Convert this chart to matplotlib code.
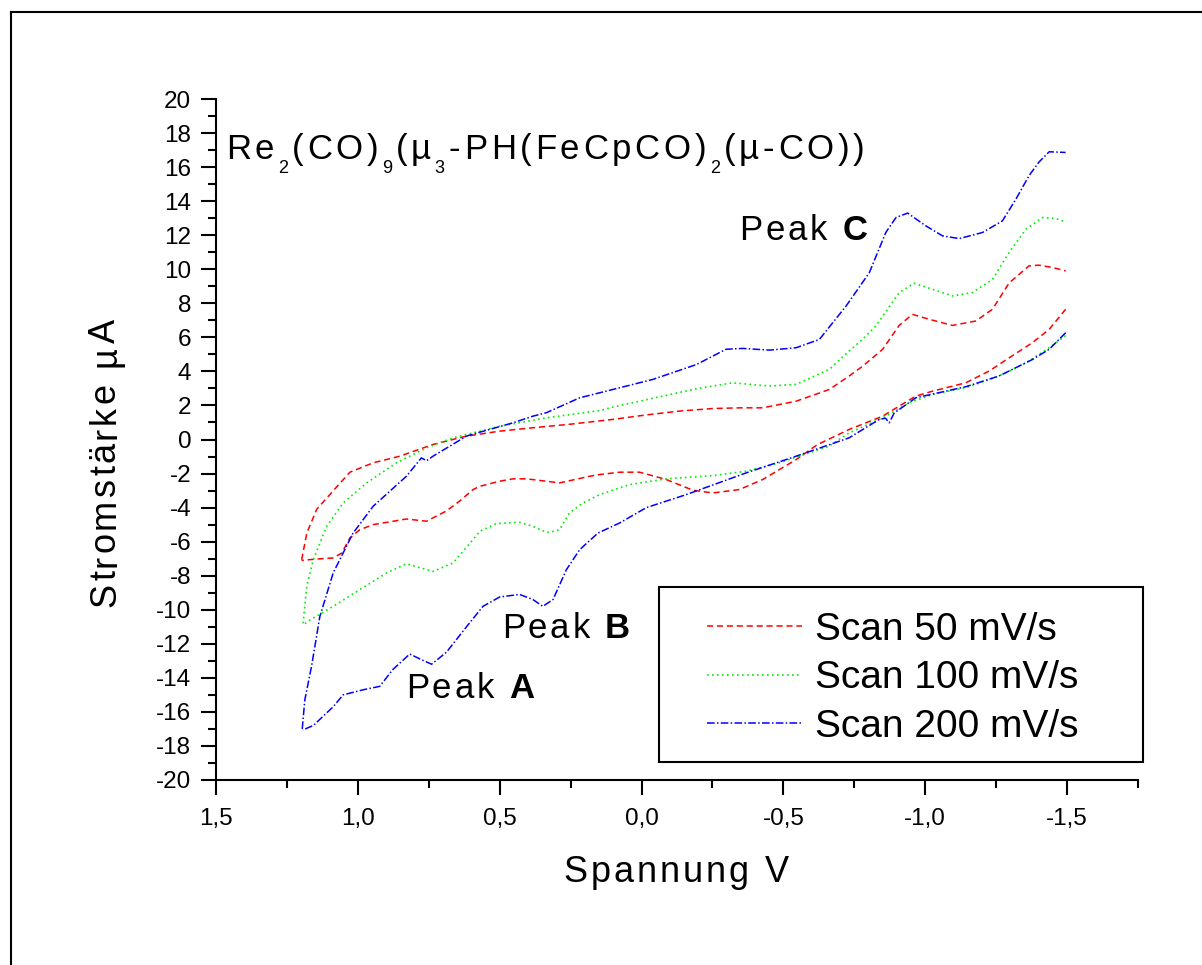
import matplotlib
matplotlib.use("Agg")
import matplotlib.pyplot as plt
from matplotlib.lines import Line2D
from matplotlib.patches import Rectangle
from matplotlib.ticker import MultipleLocator
from matplotlib.font_manager import findfont, FontProperties
from matplotlib.ft2font import FT2Font

plt.rcParams['font.family'] = 'Liberation Sans'
plt.rcParams['axes.unicode_minus'] = False

# scan 50 mV/s, forward branch (1.2 -> -1.5) and return branch (-1.5 -> 1.2)
v50_fwd = [1.198, 1.18, 1.145, 1.099, 1.028, 0.946, 0.852, 0.735, 0.617, 0.5, 0.383, 0.25,
           0.102, -0.02, -0.134, -0.251, -0.35, -0.427, -0.545, -0.662, -0.732, -0.779, -0.85,
           -0.908, -0.955, -1.014, -1.096, -1.178, -1.237, -1.296, -1.366, -1.401, -1.45, -1.495]
i50_fwd = [-7.06, -5.5, -4.1, -3.24, -1.92, -1.37, -0.98, -0.29, 0.2, 0.49, 0.69, 0.9,
           1.18, 1.45, 1.67, 1.82, 1.86, 1.86, 2.25, 2.94, 3.73, 4.3, 5.3,
           6.7, 7.35, 7.06, 6.7, 6.96, 7.65, 9.2, 10.2, 10.24, 10.1, 9.9]
v50_rev = [-1.495, -1.437, -1.378, -1.296, -1.225, -1.143, -1.026, -0.967, -0.908, -0.85, -0.732,
           -0.62, -0.545, -0.427, -0.345, -0.251, -0.181, -0.087, 0.007, 0.077, 0.148, 0.183,
           0.289, 0.336, 0.406, 0.453, 0.5, 0.57, 0.594, 0.64, 0.688, 0.758, 0.829, 0.946, 0.993,
           1.028, 1.057, 1.087, 1.145, 1.198]
i50_rev = [7.65, 6.47, 5.69, 4.8, 4.02, 3.33, 2.84, 2.55, 1.96, 1.37, 0.59,
           -0.3, -1.18, -2.35, -2.94, -3.14, -2.98, -2.35, -1.92, -1.92, -2.06, -2.16,
           -2.55, -2.45, -2.31, -2.31, -2.45, -2.75, -2.94, -3.6, -4.2, -4.8, -4.67, -5.0, -5.3,
           -5.78, -6.67, -6.96, -7.02, -7.1]

# scan 100 mV/s
v100_fwd = [1.193, 1.18, 1.157, 1.11, 1.052, 0.969, 0.864, 0.758, 0.664, 0.5, 0.336, 0.148,
            0.102, -0.075, -0.193, -0.321, -0.451, -0.545, -0.662, -0.732, -0.779, -0.826,
            -0.908, -0.961, -1.026, -1.096, -1.166, -1.237, -1.296, -1.355, -1.413, -1.46, -1.495]
i100_fwd = [-10.8, -8.6, -7.06, -5.1, -3.73, -2.55, -1.37, -0.49, 0.1, 0.78, 1.27, 1.7,
            1.9, 2.55, 2.98, 3.33, 3.14, 3.24, 4.12, 5.2, 5.88, 6.67,
            8.63, 9.18, 8.82, 8.43, 8.63, 9.4, 11.0, 12.35, 13.04, 12.98, 12.78]
v100_rev = [-1.495, -1.437, -1.355, -1.26, -1.143, -1.026, -0.944, -0.85, -0.732, -0.662, -0.486,
            -0.369, -0.251, -0.087, 0.042, 0.148, 0.207, 0.254, 0.289, 0.324, 0.336, 0.383, 0.43,
            0.512, 0.57, 0.594, 0.664, 0.735, 0.829, 0.899, 0.993, 1.087, 1.169, 1.193]
i100_rev = [6.1, 5.39, 4.5, 3.73, 3.04, 2.65, 2.16, 1.27, 0.39, -0.39, -1.37,
            -1.86, -2.12, -2.31, -2.65, -3.24, -3.73, -4.31, -5.3, -5.45, -5.45, -5.1, -4.86,
            -4.94, -5.39, -5.88, -7.25, -7.75, -7.3, -7.84, -8.82, -9.8, -10.6, -10.9]

# scan 200 mV/s
v200_fwd = [1.196, 1.187, 1.163, 1.134, 1.087, 1.017, 0.946, 0.829, 0.776, 0.758, 0.735, 0.617,
            0.57, 0.453, 0.383, 0.336, 0.218, 0.077, -0.04, -0.193, -0.298, -0.357, -0.451,
            -0.545, -0.627, -0.721, -0.803, -0.861, -0.897, -0.938, -1.002, -1.061, -1.12, -1.202,
            -1.272, -1.319, -1.366, -1.401, -1.437, -1.495]
i200_fwd = [-17.0, -15.3, -13.3, -10.4, -7.84, -5.5, -3.92, -2.16, -1.08, -1.25, -0.98, 0.2,
            0.43, 0.98, 1.37, 1.57, 2.45, 3.04, 3.53, 4.4, 5.3, 5.35, 5.25,
            5.39, 5.88, 7.84, 9.8, 12.16, 13.04, 13.3, 12.55, 11.96, 11.8, 12.16,
            12.84, 14.1, 15.5, 16.3, 16.9, 16.86]
v200_rev = [-1.495, -1.437, -1.378, -1.26, -1.143, -0.967, -0.908, -0.891, -0.873, -0.86, -0.838,
            -0.732, -0.545, -0.369, -0.157, -0.017, 0.077, 0.154, 0.218, 0.265, 0.312, 0.348,
            0.383, 0.43, 0.5, 0.559, 0.617, 0.688, 0.74, 0.78, 0.817, 0.876, 0.923, 0.981, 1.052,
            1.087, 1.157, 1.194]
i200_rev = [6.27, 5.3, 4.7, 3.73, 3.1, 2.45, 1.76, 1.57, 0.98, 1.25, 1.18,
            0.1, -0.98, -1.96, -3.24, -4.0, -4.9, -5.5, -6.47, -7.65, -9.4, -9.8,
            -9.4, -9.1, -9.25, -9.8, -11.0, -12.5, -13.2, -12.9, -12.6, -13.5, -14.5, -14.7, -15.0,
            -15.7, -16.8, -17.06]

scan_labels = ['Scan 50 mV/s', 'Scan 100 mV/s', 'Scan 200 mV/s']
x_major = [1.5, 1.0, 0.5, 0.0, -0.5, -1.0, -1.5]
x_labels = ['1,5', '1,0', '0,5', '0,0', '-0,5', '-1,0', '-1,5']
y_major = list(range(-20, 21, 2))

W, H = 1202, 965
fig = plt.figure(figsize=(W / 100, H / 100), dpi=100)
ax = fig.add_axes([216 / W, 1 - 780 / H, 922 / W, 681 / H])

# draw both branches of each scan with the same style
styles = [dict(color='#ff0000', lw=1.1, dashes=(4, 2.5)),
          dict(color='#00ee00', lw=1.2, dashes=(1, 2)),
          dict(color='#0000ff', lw=1.1, dashes=(5, 1.5, 1, 1.5))]
scans = [(v50_fwd, i50_fwd, v50_rev, i50_rev),
         (v100_fwd, i100_fwd, v100_rev, i100_rev),
         (v200_fwd, i200_fwd, v200_rev, i200_rev)]
handles = []
for (vf, jf, vr, jr), st, lab in zip(scans, styles, scan_labels):
    h, = ax.plot(vf, jf, label=lab, **st)
    ax.plot(vr, jr, **st)
    handles.append(h)

ax.set_xlim(1.5, -1.75)
ax.set_ylim(-20, 20)
ax.set_xticks(x_major)
ax.set_xticklabels(x_labels)
ax.xaxis.set_minor_locator(MultipleLocator(0.25))
ax.set_yticks(y_major)
ax.set_yticklabels([str(v) for v in y_major])
ax.yaxis.set_minor_locator(MultipleLocator(1))

for s in ['top', 'right']:
    ax.spines[s].set_visible(False)
for s in ['left', 'bottom']:
    ax.spines[s].set_linewidth(1.5)
ax.tick_params(which='major', direction='out', length=10.8, width=1.5, labelsize=17.5)
ax.tick_params(axis='x', which='major', pad=9)
ax.tick_params(axis='y', which='major', pad=7)
ax.tick_params(which='minor', direction='out', length=6, width=1.5)

# letter-spaced text, as in the original export
fonts = {}


def advance(ch, size, bold):
    if bold not in fonts:
        fonts[bold] = FT2Font(findfont(FontProperties(family='Liberation Sans',
                                                      weight='bold' if bold else 'normal')))
    f = fonts[bold]
    f.set_size(size, 72)
    return f.load_char(ord(ch)).linearHoriAdvance / 65536.0


def spaced_text(x, y, parts, size, coords, rotation=0, center=False, track=2.1):
    glyphs = []
    pos = 0.0
    for s, kind in parts:
        fs = size * 0.52 if kind == 'sub' else size
        bold = kind == 'b'
        for ch in s:
            glyphs.append((ch, pos, fs, bold, kind == 'sub'))
            pos += advance(ch, fs, bold) + track
    start = -(pos - track) / 2 if center else 0.0
    for ch, p, fs, bold, sub in glyphs:
        along = start + p
        drop = 0.42 * size if sub else 0.0
        off = (drop, along) if rotation == 90 else (along, -drop)
        ax.annotate(ch, xy=(x, y), xycoords=coords, xytext=off, textcoords='offset points',
                    fontsize=fs, fontweight='bold' if bold else 'normal', ha='left',
                    va='baseline', rotation=rotation, rotation_mode='anchor',
                    annotation_clip=False)


# axis titles
spaced_text(676 / W, 1 - 882 / H, [('Spannung V', 'n')], 26, 'figure fraction', center=True)
spaced_text(115 / W, 1 - 463 / H, [('Stromstärke µA', 'n')], 26, 'figure fraction',
            rotation=90, center=True)

# compound name and peak labels
spaced_text(1.465, 16.5, [('Re', 'n'), ('2', 'sub'), ('(CO)', 'n'), ('9', 'sub'), ('(µ', 'n'),
                          ('3', 'sub'), ('-PH(FeCpCO)', 'n'), ('2', 'sub'), ('(µ-CO))', 'n')],
            25, 'data', track=2.7)
spaced_text(0.831, -15.2, [('Peak ', 'n'), ('A', 'b')], 25, 'data')
spaced_text(0.493, -11.65, [('Peak ', 'n'), ('B', 'b')], 25, 'data')
spaced_text(-0.345, 11.7, [('Peak ', 'n'), ('C', 'b')], 25, 'data')

# legend with a separate frame box
fig.add_artist(Rectangle((659 / W, 1 - 762 / H), 484 / W, 175 / H, transform=fig.transFigure,
                         fill=False, edgecolor='black', lw=1.5))
ax.legend(handles=handles, loc='upper left', bbox_to_anchor=(707 / W, 1 - 612 / H),
          bbox_transform=fig.transFigure, frameon=False, fontsize=28, handlelength=2.45,
          handletextpad=0.33, labelspacing=0.32, borderpad=0, borderaxespad=0)

# page border (left and top edges)
fig.add_artist(Line2D([11 / W, 11 / W], [0, 1 - 12 / H], transform=fig.transFigure, color='black', lw=1.5))
fig.add_artist(Line2D([11 / W, 1], [1 - 12 / H, 1 - 12 / H], transform=fig.transFigure, color='black', lw=1.5))

fig.savefig('out.png', dpi=100)
